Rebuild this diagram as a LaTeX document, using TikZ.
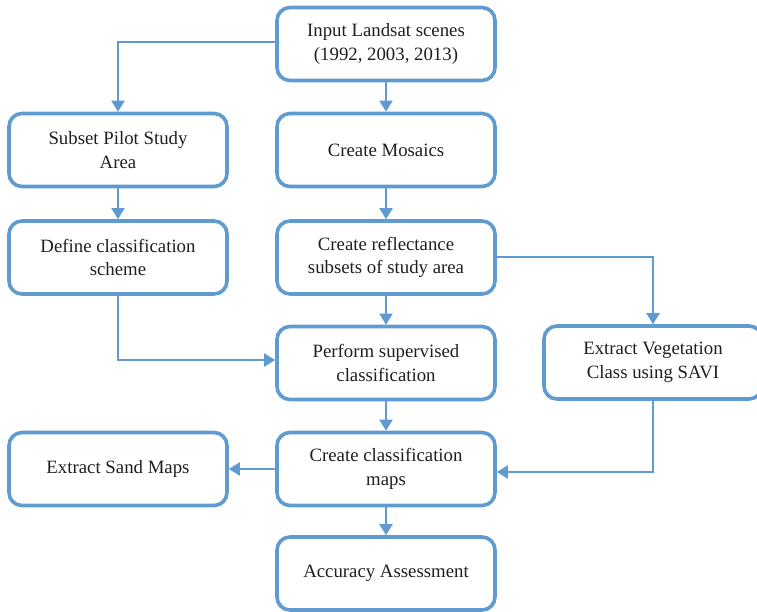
\documentclass[tikz,border=0pt]{standalone}
\usepackage{fontspec}
\setmainfont{Liberation Serif}
\usetikzlibrary{arrows.meta}
\definecolor{bl}{HTML}{5F9AD0}
\begin{document}
\begin{tikzpicture}[x=1pt,y=-1pt,
  box/.style={draw=bl, line width=3.6pt, rounded corners=13pt, minimum width=218pt, minimum height=73pt,
    inner sep=0pt, align=center, font=\fontsize{18.8}{23.5}\selectfont, text=black!88},
  conn/.style={draw=bl, line width=2pt, -{Triangle[width=13pt,length=11pt]}}]
\useasboundingbox (0,0) rectangle (757,612);
\node[box] (in) at (386,44) {Input Landsat scenes\\(1992, 2003, 2013)};
\node[box] (sub) at (118,150) {Subset Pilot Study\\Area};
\node[box] (mos) at (386,150) {Create Mosaics};
\node[box] (def) at (118,257.5) {Define classification\\scheme};
\node[box] (ref) at (386,257.5) {Create reflectance\\subsets of study area};
\node[box] (per) at (386,363) {Perform supervised\\classification};
\node[box] (veg) at (653,362.5) {Extract Vegetation\\Class using SAVI};
\node[box] (cmap) at (386,469) {Create classification\\maps};
\node[box] (sand) at (118,469) {Extract Sand Maps};
\node[box] (acc) at (386,573.5) {Accuracy Assessment};
\draw[conn] ([yshift=2pt]in.west) -| (sub.north);
\draw[conn] (in.south) -- (mos.north);
\draw[conn] (sub.south) -- (def.north);
\draw[conn] (mos.south) -- (ref.north);
\draw[conn] (ref.south) -- (per.north);
\draw[conn] (ref.east) -| (veg.north);
\draw[conn] (def.south) |- ([yshift=3pt]per.west);
\draw[conn] (per.south) -- (cmap.north);
\draw[conn] (veg.south) |- ([yshift=-3pt]cmap.east);
\draw[conn] (cmap.west) -- (sand.east);
\draw[conn] (cmap.south) -- (acc.north);
\end{tikzpicture}
\end{document}
